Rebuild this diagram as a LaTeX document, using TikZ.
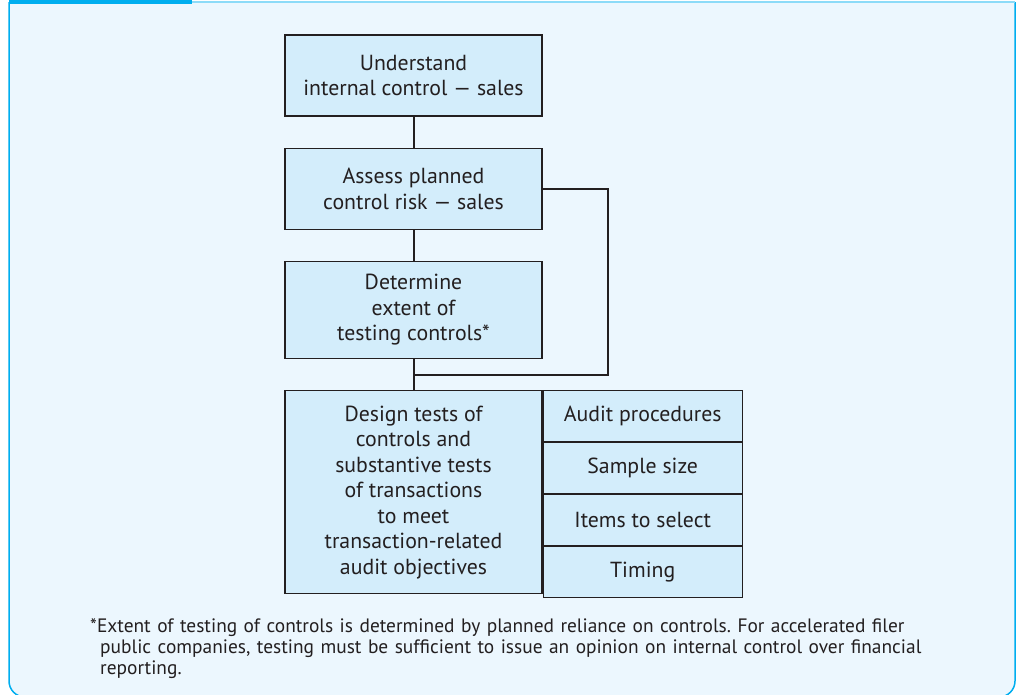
\documentclass[tikz,border=0pt]{standalone}
\usepackage{fontspec}
\setmainfont{PT Sans}
\usetikzlibrary{positioning}
\definecolor{framecyan}{RGB}{0,174,239}
\definecolor{paperblue}{RGB}{236,247,254}
\definecolor{boxblue}{RGB}{211,237,251}
\definecolor{inkdark}{RGB}{35,31,32}
\frenchspacing

\begin{document}
\begin{tikzpicture}[
    x=1pt, y=-1pt,
    node distance=31pt,
    block/.style={rectangle, draw=inkdark, line width=1.2pt, fill=boxblue, minimum width=257pt, align=center, text=inkdark, font=\fontsize{21.8}{25.5}\selectfont},
    cell/.style={rectangle, draw=inkdark, line width=1.2pt, fill=boxblue, minimum width=199pt, minimum height=50.75pt, align=center, text=inkdark, font=\fontsize{21.8}{25.5}\selectfont},
    note/.style={inner sep=0pt, text width=900pt, align=left, text=inkdark, font=\fontsize{19.4}{21}\selectfont},
    link/.style={line width=2pt, draw=inkdark}
]
\useasboundingbox (0,0) rectangle (1017,694);
% panel
\fill[paperblue, rounded corners=16pt] (9,2) -- (9,697) -- (1015,697) -- (1015,2) -- cycle;
\fill[paperblue] (9,2) rectangle (1015,40);
\draw[framecyan, line width=1.5pt, rounded corners=16pt] (9,2) -- (9,697) -- (1015,697) -- (1015,2);
\draw[framecyan!45, line width=2pt] (9,2) -- (1015,2);
\fill[framecyan] (9,0) rectangle (192,3.5);

\node[block, minimum height=81pt] (understand) at (413.5,75.5) {Understand\\internal control --- sales};
\node[block, minimum height=81pt, below=of understand] (assess) {Assess planned\\control risk --- sales};
\node[block, minimum height=97pt, below=of assess] (determine) {Determine\\extent of\\testing controls*};
\node[block, minimum height=203pt, below=of determine] (design) {Design tests of\\controls and\\substantive tests\\of transactions\\to meet\\transaction-related\\audit objectives};
\node[cell, anchor=north west] (procedures) at (design.north east) {Audit procedures};
\node[cell, below=0pt of procedures] (sample) {Sample size};
\node[cell, below=0pt of sample] (items) {Items to select};
\node[cell, below=0pt of items] (timing) {Timing};
\coordinate[below=15.5pt of determine] (merge);

\draw[link] (understand) -- (assess);
\draw[link] (assess) -- (determine);
\draw[link] (determine) -- (design);
\draw[link] (assess.east) -- ++(65pt,0) |- (merge);

\node[note, anchor=north west] (footnote) at (90,618) {*Extent of testing of controls is determined by planned reliance on controls. For accelerated filer\\\hspace*{10pt}public companies, testing must be sufficient to issue an opinion on internal control over financial\\\hspace*{10pt}reporting.};
\end{tikzpicture}
\end{document}
